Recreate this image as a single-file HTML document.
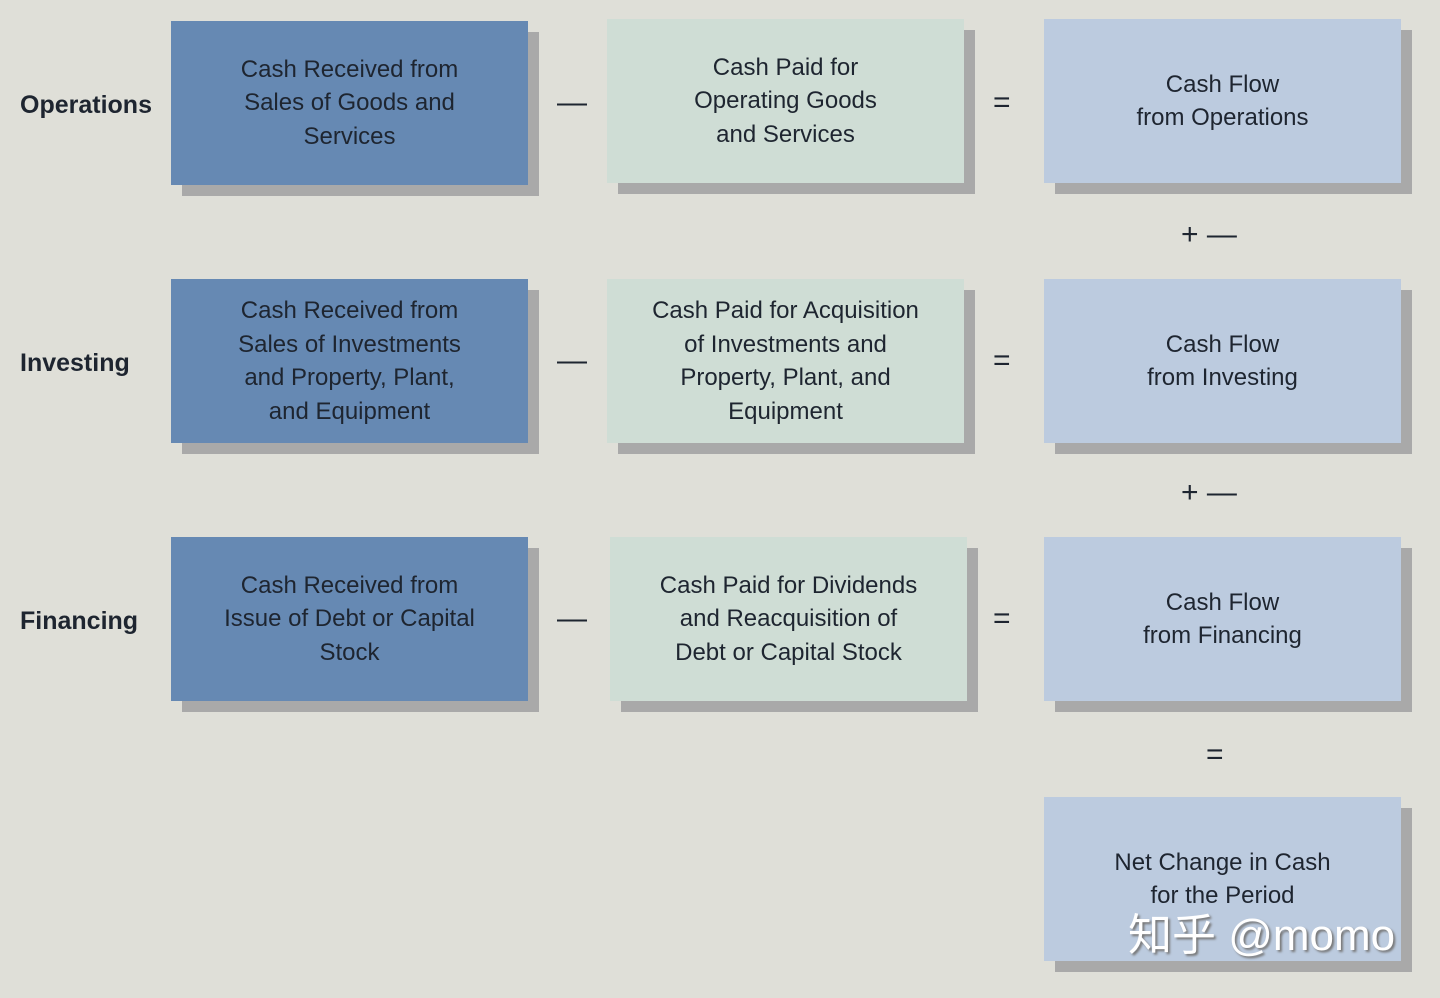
<!DOCTYPE html>
<html><head><style>
body{margin:0;width:1440px;height:998px;background:#dfdfd8;position:relative;overflow:hidden;font-family:"Liberation Sans",sans-serif}
.b{position:absolute;width:357px;height:164px;display:flex;align-items:center;justify-content:center;text-align:center;font-size:24px;line-height:33.5px;color:#1e2530;box-shadow:11px 11px 0 #a9a9a9}
.d{background:#6689b3}.g{background:#cfddd5}.l{background:#bccbdf}
.lab{position:absolute;left:20px;font-size:25px;font-weight:bold;color:#1e2530}
.op{position:absolute;font-size:30px;color:#1e2530;line-height:1}
.wm{position:absolute;left:1128px;top:914px;font-size:44px;color:#fff;text-shadow:2px 2px 2px #777;font-family:"Liberation Sans","Noto Sans CJK SC",sans-serif;line-height:1}
</style></head><body>
<div class="lab" style="top:91px">Operations</div>
<div class="lab" style="top:349px">Investing</div>
<div class="lab" style="top:607px">Financing</div>

<div class="b d" style="left:171px;top:21px">Cash Received from<br>Sales of Goods and<br>Services</div>
<div class="b g" style="left:607px;top:19px">Cash Paid for<br>Operating Goods<br>and Services</div>
<div class="b l" style="left:1044px;top:19px">Cash Flow<br>from Operations</div>

<div class="b d" style="left:171px;top:279px">Cash Received from<br>Sales of Investments<br>and Property, Plant,<br>and Equipment</div>
<div class="b g" style="left:607px;top:279px">Cash Paid for Acquisition<br>of Investments and<br>Property, Plant, and<br>Equipment</div>
<div class="b l" style="left:1044px;top:279px">Cash Flow<br>from Investing</div>

<div class="b d" style="left:171px;top:537px">Cash Received from<br>Issue of Debt or Capital<br>Stock</div>
<div class="b g" style="left:610px;top:537px">Cash Paid for Dividends<br>and Reacquisition of<br>Debt or Capital Stock</div>
<div class="b l" style="left:1044px;top:537px">Cash Flow<br>from Financing</div>

<div class="b l" style="left:1044px;top:797px">Net Change in Cash<br>for the Period</div>

<div class="op" style="left:557px;top:88px">—</div>
<div class="op" style="left:557px;top:346px">—</div>
<div class="op" style="left:557px;top:604px">—</div>
<div class="op" style="left:993px;top:88px">=</div>
<div class="op" style="left:993px;top:346px">=</div>
<div class="op" style="left:993px;top:604px">=</div>
<div class="op" style="left:1181px;top:220px">+ —</div>
<div class="op" style="left:1181px;top:478px">+ —</div>
<div class="op" style="left:1206px;top:740px">=</div>
<div class="wm">知乎 @momo</div>
</body></html>
